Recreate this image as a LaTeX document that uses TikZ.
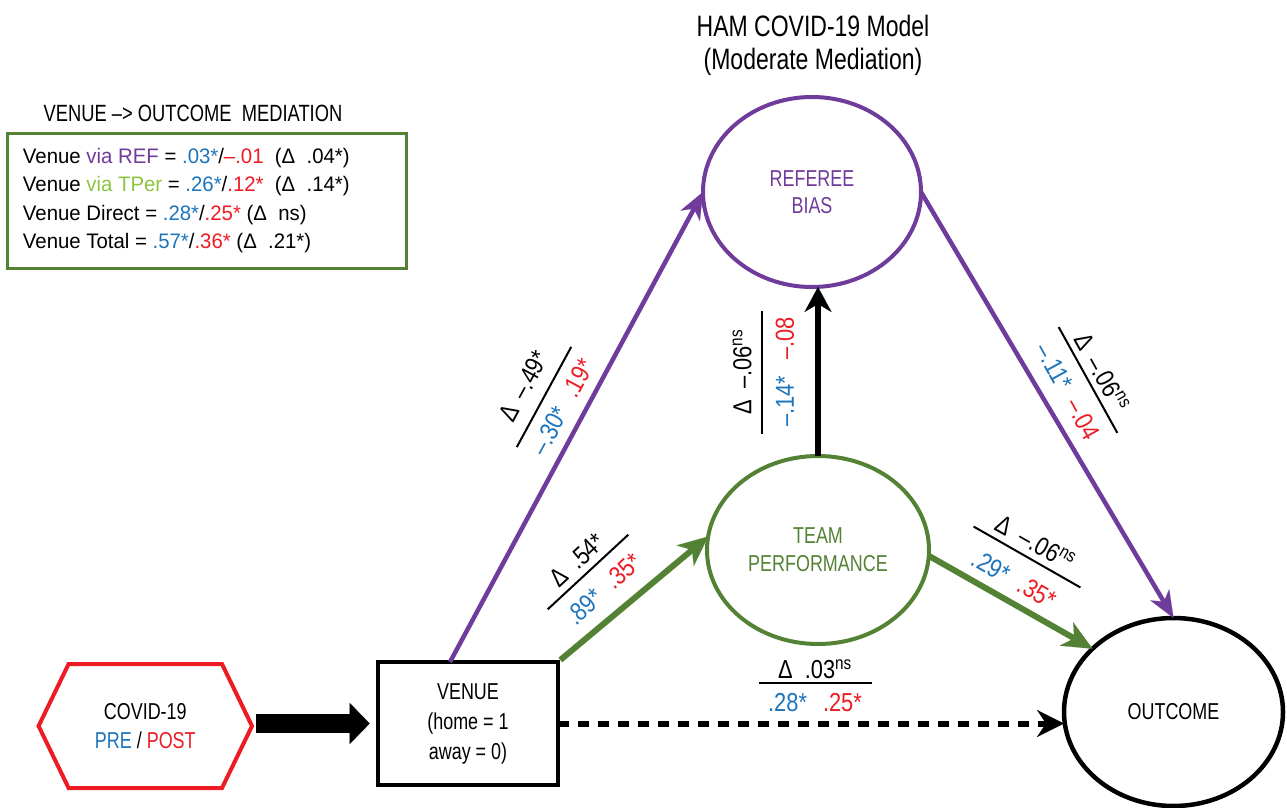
\documentclass[tikz,border=0pt]{standalone}
\usepackage{fontspec}
\setmainfont[FakeStretch=0.78]{Liberation Sans}
\newfontfamily\boxfont[FakeStretch=0.97]{Liberation Sans}
\newfontfamily\labfont[FakeStretch=0.84]{Liberation Sans}
\usetikzlibrary{arrows.meta,shapes.geometric}
\definecolor{cpurple}{RGB}{112,60,155}
\definecolor{cgreen}{RGB}{84,130,53}
\definecolor{clgreen}{RGB}{140,198,63}
\definecolor{cblue}{RGB}{28,117,188}
\definecolor{cred}{RGB}{237,28,36}
\newcommand\txtb[1]{\textcolor{cblue}{#1}}
\newcommand\txtr[1]{\textcolor{cred}{#1}}
\newcommand\nsup{\textsuperscript{ns}}
\tikzset{
  every node/.style={inner sep=0pt, outer sep=0pt},
  nodefont/.style={font=\fontsize{23}{28}\selectfont},
  ellnode/.style={ellipse, draw, line width=4pt, nodefont, align=center},
  lab/.style={font=\labfont\fontsize{26}{30}\selectfont, transform shape},
  fracline/.style={line width=2pt},
  boxtext/.style={font=\boxfont\fontsize{21}{28}\selectfont, anchor=base west},
  purarrow/.style={draw=cpurple, line width=4.5pt, -{Stealth[length=27pt,width=22pt,inset=8pt,line width=0.1pt]}},
  grnarrow/.style={draw=cgreen, line width=6pt, -{Stealth[length=30pt,width=27pt,inset=9pt,line width=0.1pt]}},
  blkarrow/.style={draw=black, line width=6pt, -{Stealth[length=25pt,width=27pt,inset=8pt,line width=0.1pt]}},
  dasharrow/.style={draw=black, line width=6pt, dash pattern=on 11pt off 9pt, -{Stealth[length=27pt,width=27pt,inset=9pt,line width=0.1pt]}},
  bigarrow/.style={draw=black, line width=19.6pt, -{Triangle[length=20pt,width=41pt,line width=0.1pt]}},
}
\newcommand\edgelab[9]{%
  \begin{scope}[shift={(#2,#3)},rotate=#4]
    \draw[fracline] (-#5/2,0) -- (#5/2,0);
    \node[lab] (#1t) at (0,-#6) {#8};
    \node[lab] (#1b) at (0,#7) {#9};
  \end{scope}}
\begin{document}
\begin{tikzpicture}[x=1pt,y=-1pt]
\useasboundingbox (0,0) rectangle (1287,808);
\fill[white] (0,0) rectangle (1287,808);

% titles
\node[align=center, font=\fontsize{29.5}{33}\selectfont] (title) at (813,45) {HAM COVID-19 Model\\(Moderate Mediation)};
\node[font=\fontsize{23.5}{28}\selectfont] (medtitle) at (193,113) {VENUE –> OUTCOME\ \ MEDIATION};

% mediation box
\node[draw=cgreen, line width=3pt, minimum width=399pt, minimum height=135pt] (medbox) at (206.5,200.5) {};
\node[boxtext] (l1) at (23,163.3) {Venue \textcolor{cpurple}{via REF} = \txtb{.03*}/\txtr{–.01}\ \ (Δ\ \ .04*)};
\node[boxtext] (l2) at (23,191.7) {Venue \textcolor{clgreen}{via TPer} = \txtb{.26*}/\txtr{.12*}\ \ (Δ\ \ .14*)};
\node[boxtext] (l3) at (23,220) {Venue Direct = \txtb{.28*}/\txtr{.25*} (Δ\ \ ns)};
\node[boxtext] (l4) at (23,248.3) {Venue Total = \txtb{.57*}/\txtr{.36*} (Δ\ \ .21*)};

% main nodes
\node[ellnode, draw=cpurple, text=cpurple, minimum width=218pt, minimum height=190pt, font=\fontsize{23}{27}\selectfont] (ref) at (812,192) {REFEREE\\BIAS};
\node[ellnode, draw=cgreen, text=cgreen, minimum width=222pt, minimum height=188pt] (team) at (818,550) {TEAM\\PERFORMANCE};
\node[ellnode, draw=black, line width=4.5pt, minimum width=219pt, minimum height=188pt] (out) at (1173.5,712) {OUTCOME};
\node[draw=black, line width=4pt, align=center, minimum width=180.6pt, minimum height=123pt, font=\fontsize{23}{30}\selectfont] (venue) at (468,723.5) {VENUE\\(home = 1\\away = 0)};
\node[align=center, minimum width=213.4pt, minimum height=124pt, font=\fontsize{23}{29}\selectfont] (hex) at (145.3,726) {COVID-19\\\txtb{PRE} / \txtr{POST}};
\draw[draw=cred, line width=4pt, line join=miter] (hex.west) -- ([xshift=30pt]hex.north west) -- ([xshift=-30pt]hex.north east) -- (hex.east) -- ([xshift=-30pt]hex.south east) -- ([xshift=30pt]hex.south west) -- cycle;

% connectors
\draw[bigarrow] ([xshift=3.5pt]hex.east |- venue.west) -- ([xshift=-8pt]venue.west);
\draw[purarrow] ([xshift=-18pt]venue.north) -- (ref.west);
\draw[purarrow] (ref.east) -- (out.north);
\draw[grnarrow] ([xshift=2pt,yshift=2pt]venue.north east) -- (team.173);
\draw[grnarrow] (team.-3) -- (out.142);
\draw[blkarrow] (team.north) -- (team.north |- ref.south);
\draw[dasharrow] (venue.east) -- (venue.east -| out.west);

% edge labels
\edgelab{la}{544}{397}{61.5}{114}{23}{21}{Δ\hspace{10pt}–.49*}{\txtb{–.30*}\hspace{15pt}\txtr{.19*}}
\edgelab{lb}{762}{372}{90}{123}{20}{23}{Δ\hspace{11pt}–.06\nsup}{\txtb{–.14*}\hspace{16pt}\txtr{–.08}}
\edgelab{lc}{1088}{380}{-61}{121}{16}{23}{Δ\hspace{11pt}–.06\nsup}{\txtb{–.11*}\hspace{14pt}\txtr{–.04}}
\edgelab{ld}{588}{572}{42.8}{110}{16}{23}{Δ\hspace{12pt}.54*}{\txtb{.89*}\hspace{14pt}\txtr{.35*}}
\edgelab{le}{1027}{557}{-29.7}{123}{17}{26}{Δ\hspace{12pt}–.06\nsup}{\txtb{.29*}\hspace{14pt}\txtr{.35*}}
\edgelab{lf}{815}{683}{0}{113}{14}{20}{Δ\hspace{12pt}.03\nsup}{\txtb{.28*}\hspace{16pt}\txtr{.25*}}
\end{tikzpicture}
\end{document}
